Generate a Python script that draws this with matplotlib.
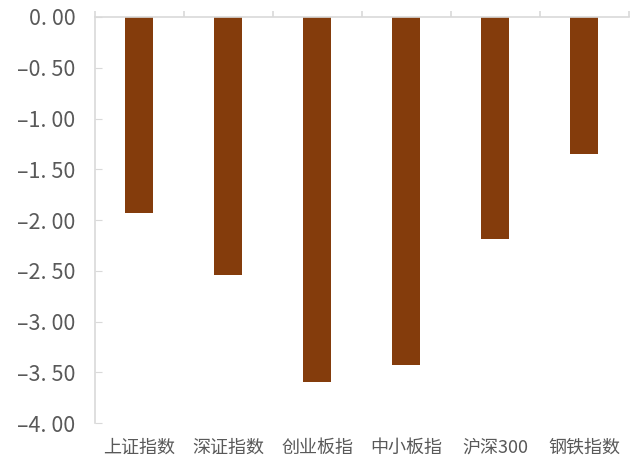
import matplotlib
matplotlib.use("Agg")
import matplotlib.pyplot as plt
import numpy as np

plt.rcParams['font.family'] = ['Noto Sans CJK SC', 'DejaVu Sans']

# 数据
categories = ['上证指数', '深证指数', '创业板指', '中小板指', '沪深300', '钢铁指数']
values = [-1.93, -2.54, -3.59, -3.43, -2.185, -1.35]
yticks = [0.0, -0.5, -1.0, -1.5, -2.0, -2.5, -3.0, -3.5, -4.0]

bar_color = '#843C0C'
axis_color = '#D9D9D9'
text_color = '#595959'

fig = plt.figure(figsize=(6.41, 4.59), dpi=100)
ax = fig.add_axes([0.148, 0.078, 0.833, 0.885])

x = np.arange(len(categories))
ax.bar(x, values, width=0.315, color=bar_color, zorder=2)

ax.set_xlim(-0.5, len(categories) - 0.5)
ax.set_ylim(-4.0, 0.0)

# 坐标轴样式
for side in ['right', 'bottom']:
    ax.spines[side].set_visible(False)
for side in ['top', 'left']:
    ax.spines[side].set_color(axis_color)
    ax.spines[side].set_linewidth(1.2)


def fmt(v):
    s = f'{abs(v):.2f}'.replace('.', '. ')
    return ('\u2013' + s) if v < 0 else s


ax.set_yticks(yticks)
ax.set_yticklabels([fmt(v) for v in yticks])
ax.tick_params(axis='y', direction='in', length=5, color=axis_color,
               labelcolor=text_color, labelsize=15.5, pad=14)

# 分类标签在下方，刻度线在上方
ax.set_xticks(x)
ax.set_xticklabels(categories)
ax.tick_params(axis='x', which='major', length=0, labelcolor=text_color,
               labelsize=13, pad=11)
ax.set_xticks(np.arange(len(categories) + 1) - 0.5, minor=True)
ax.tick_params(axis='x', which='minor', top=True, bottom=False,
               direction='out', length=4, color=axis_color, width=1.2)

fig.savefig('out.png', dpi=100)
